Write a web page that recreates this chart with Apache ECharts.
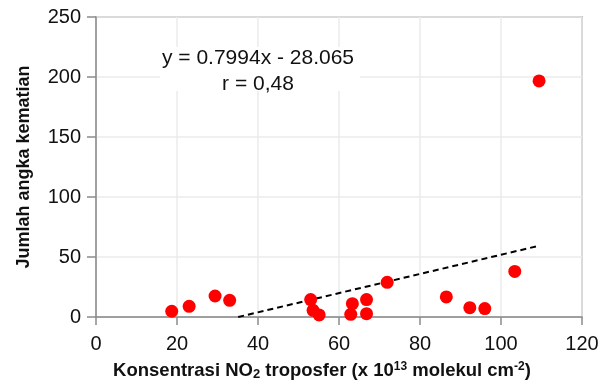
<!DOCTYPE html>
<html>
<head>
<meta charset="utf-8">
<script src="https://cdn.jsdelivr.net/npm/echarts@6/dist/echarts.min.js"></script>
<style>
  html, body { margin: 0; padding: 0; background: #fff; }
  #chart { width: 605px; height: 392px; }
</style>
</head>
<body>
<div id="chart"></div>
<script>
// data
var no2 = [18.7, 23.0, 29.4, 33.0, 53.0, 53.6, 55.1, 62.9, 63.3, 66.8, 66.8, 71.9, 86.5, 92.3, 96.0, 103.4, 109.4];
var deaths = [4.8, 8.9, 17.5, 13.9, 14.5, 5.6, 1.7, 2.2, 11.1, 14.5, 2.8, 28.9, 16.7, 7.8, 7.0, 38.0, 196.7];

// regression
var slope = 0.7994;
var intercept = -28.065;
var trendX = [-intercept / slope, 109.4];

var xTicks = [0, 20, 40, 60, 80, 100, 120];
var yTicks = [0, 50, 100, 150, 200, 250];

var points = no2.map(function (x, i) { return [x, deaths[i]]; });
var trend = trendX.map(function (x) { return [x, slope * x + intercept]; });

var myChart = echarts.init(document.getElementById('chart'));
var font = 'Liberation Sans, Arial, sans-serif';

var option = {
  animation: false,
  grid: {
    left: 96,
    right: 23,
    top: 17,
    bottom: 75,
    show: true,
    borderColor: '#8c8c8c',
    borderWidth: 1.5
  },
  xAxis: {
    type: 'value',
    min: xTicks[0],
    max: xTicks[xTicks.length - 1],
    interval: 20,
    name: 'Konsentrasi NO{sub|2} troposfer (x 10{sup|13} molekul cm{sup|-2})',
    nameLocation: 'middle',
    nameGap: 43,
    nameTextStyle: {
      fontFamily: font,
      fontSize: 18.5,
      fontWeight: 'bold',
      color: '#111',
      padding: [0, 34, 0, 0],
      rich: {
        sub: { fontFamily: font, fontSize: 13, fontWeight: 'bold', color: '#111', padding: [8, 0, 0, 0] },
        sup: { fontFamily: font, fontSize: 12, fontWeight: 'bold', color: '#111', padding: [0, 0, 8, 0] }
      }
    },
    axisLine: { show: true, lineStyle: { color: '#8c8c8c', width: 1.5 } },
    axisTick: { show: true, length: 8, lineStyle: { color: '#8c8c8c', width: 1.5 } },
    axisLabel: { fontFamily: font, fontSize: 20, color: '#111', margin: 17 },
    splitLine: { show: true, lineStyle: { color: '#ebebeb', width: 1.5 } }
  },
  yAxis: {
    type: 'value',
    min: yTicks[0],
    max: yTicks[yTicks.length - 1],
    interval: 50,
    name: 'Jumlah angka kematian',
    nameLocation: 'middle',
    nameGap: 63,
    nameTextStyle: { fontFamily: font, fontSize: 18, fontWeight: 'bold', color: '#111' },
    axisLine: { show: true, lineStyle: { color: '#8c8c8c', width: 1.5 } },
    axisTick: { show: true, length: 9, lineStyle: { color: '#8c8c8c', width: 1.5 } },
    axisLabel: { fontFamily: font, fontSize: 20, color: '#111', margin: 15 },
    splitLine: { show: true, lineStyle: { color: '#ebebeb', width: 1.5 } }
  },
  graphic: [
    {
      // white box behind the equation (hides the gridlines there)
      type: 'rect',
      shape: { x: 160, y: 47, width: 200, height: 44 },
      style: { fill: '#fff' },
      z: 1
    },
    {
      type: 'text',
      x: 258,
      y: 58,
      z: 2,
      style: {
        text: 'y = 0.7994x - 28.065',
        font: '21px ' + font,
        fill: '#111',
        textAlign: 'center',
        textVerticalAlign: 'middle'
      }
    },
    {
      type: 'text',
      x: 258,
      y: 84,
      z: 2,
      style: {
        text: 'r = 0,48',
        font: '21px ' + font,
        fill: '#111',
        textAlign: 'center',
        textVerticalAlign: 'middle'
      }
    }
  ],
  series: [
    {
      name: 'trend',
      type: 'line',
      data: trend,
      symbol: 'none',
      lineStyle: { color: '#000', width: 2, type: [6, 4] },
      z: 1
    },
    {
      name: 'data',
      type: 'scatter',
      data: points,
      symbolSize: 13,
      itemStyle: { color: '#ff0000', opacity: 1 },
      z: 3
    }
  ]
};
myChart.setOption(option);
</script>
</body>
</html>
